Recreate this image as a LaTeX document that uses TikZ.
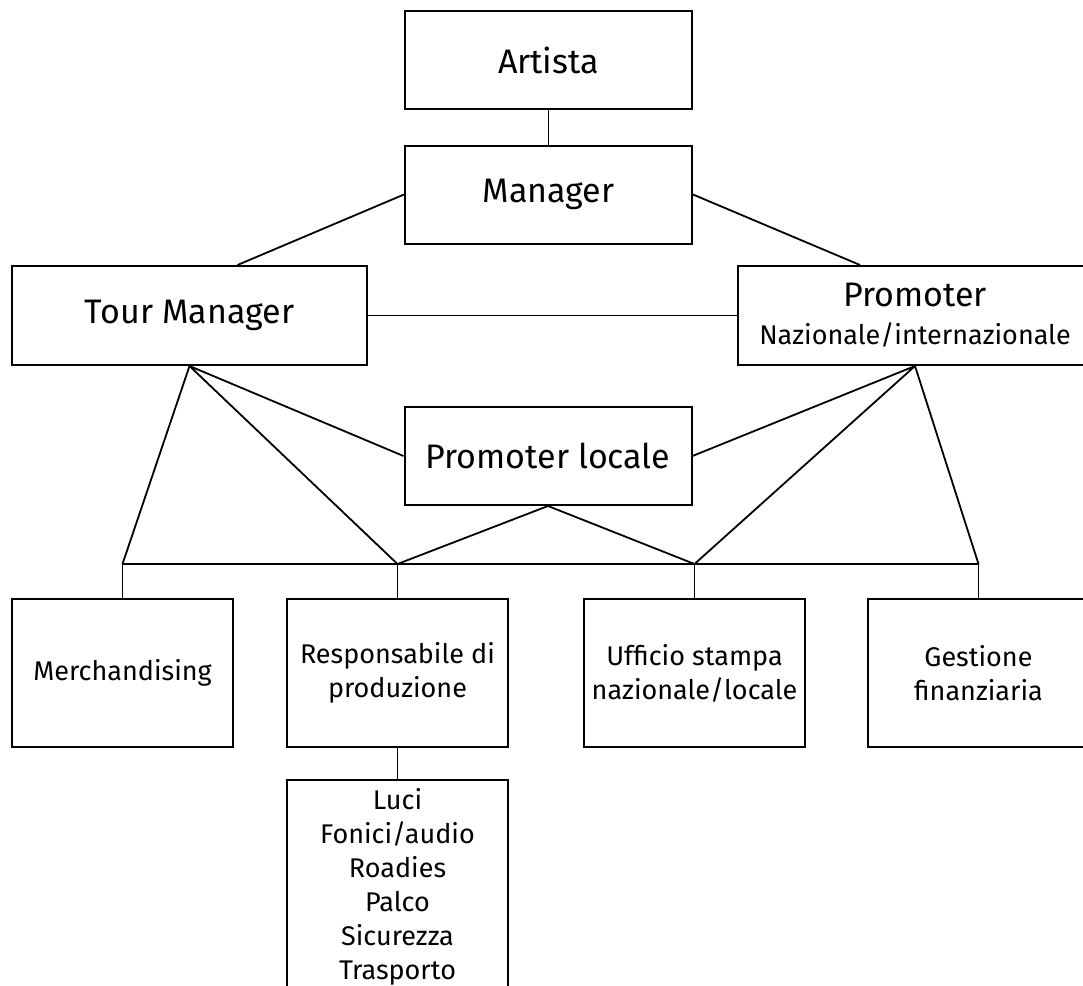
\documentclass[tikz,border=0pt]{standalone}
\usepackage{fontspec}
\setmainfont{Fira Sans}
\begin{document}
\begin{tikzpicture}[x=0.5pt,y=-0.5pt,line width=0.9pt,
  every node/.style={font=\fontsize{13.5}{17}\selectfont},
  topbox/.style={draw,line width=1pt,minimum width=143.5pt,minimum height=49pt,
    font=\fontsize{17}{20}\selectfont},
  sidebox/.style={draw,line width=1pt,minimum width=177.5pt,minimum height=49.5pt,
    align=center,font=\fontsize{17}{20}\selectfont},
  unitbox/.style={draw,line width=1pt,minimum width=110.5pt,minimum height=74pt,align=center}]
  \useasboundingbox (0,0) rectangle (1083,986);

  % upper levels
  \node[topbox] (artista) at (548.5,60) {Artista};
  \node[topbox] (manager) at (548.5,194.5) {Manager};
  \node[sidebox] (tour) at (189.5,315.5) {Tour Manager};
  \node[sidebox] (promoter) at (915,315.5)
    {Promoter\\[-1pt]{\fontsize{13.5}{16}\selectfont Nazionale/internazionale}};
  \node[topbox] (locale) at (548,456) {Promoter locale};

  % operative units
  \node[unitbox] (merch) at (122.5,673) {Merchandising};
  \node[unitbox] (resp) at (397.5,673) {Responsabile di\\produzione};
  \node[unitbox] (uff) at (694.5,673) {Ufficio stampa\\nazionale/locale};
  \node[unitbox] (gest) at (978.5,673) {Gestione\\finanziaria};
  \node[draw,line width=1pt,minimum width=110.5pt,align=center,anchor=north,
    inner ysep=4pt] (luci) at (397.5,779)
    {Luci\\Fonici/audio\\Roadies\\Palco\\Sicurezza\\Trasporto};

  \coordinate (bar) at (0,564);
  \coordinate (jm) at (merch.north |- bar); \coordinate (jr) at (resp.north |- bar);
  \coordinate (ju) at (uff.north |- bar); \coordinate (jg) at (gest.north |- bar);

  \draw (artista) -- (manager);
  \draw (manager.west) -- ([xshift=24pt]tour.north);
  \draw (manager.east) -- ([xshift=-27.5pt]promoter.north);
  \draw (tour) -- (promoter);

  \draw (tour.south) -- (jm) (tour.south) -- (jr) (tour.south) -- (locale.west);
  \draw (promoter.south) -- (locale.east) (promoter.south) -- (ju)
    (promoter.south) -- (jg);
  \draw (locale.south) -- (jr) (locale.south) -- (ju);

  \draw (jm) -- (jg);
  \draw (jm) -- (merch.north) (jr) -- (resp.north) (ju) -- (uff.north)
    (jg) -- (gest.north);
  \draw (resp) -- (luci);
\end{tikzpicture}
\end{document}
